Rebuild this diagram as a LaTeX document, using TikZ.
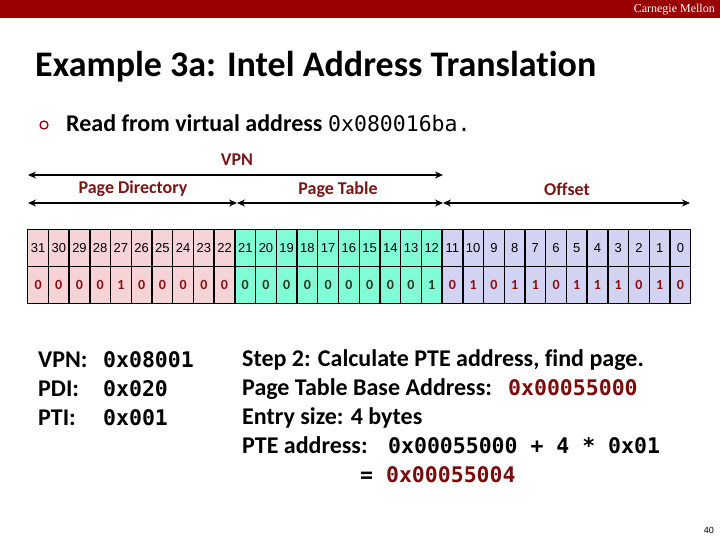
\documentclass[tikz,border=0pt]{standalone}
\usepackage{fontspec}
\setmainfont{Carlito}[Ligatures={NoCommon}]
\newfontfamily\mono{DejaVu Sans Mono}
\newfontfamily\arial{Liberation Sans}
\newfontfamily\tnr{Liberation Serif}
\usetikzlibrary{arrows.meta}
\definecolor{cmured}{HTML}{990000}
\definecolor{lbl}{HTML}{7A1616}
\definecolor{hexred}{HTML}{7A0C0C}
\definecolor{cpink}{HTML}{F6D3D6}
\definecolor{cgreen}{HTML}{80FDD6}
\definecolor{clav}{HTML}{D2D2F2}
\definecolor{vred}{HTML}{8A1010}
\definecolor{vgreen}{HTML}{2A3A20}
\tikzset{
  cell/.style={draw=black, line width=1.4pt, minimum width=20.72pt, minimum height=37pt, inner sep=0pt, anchor=north west},
  bitnum/.style={cell, font=\arial\fontsize{13}{13}\selectfont},
  bitval/.style={cell, font=\bfseries\fontsize{14}{14}\selectfont},
  dim/.style={line width=1.6pt, {Stealth[length=8pt,width=7pt]}-{Stealth[length=8pt,width=7pt]}},
  fieldlbl/.style={text=lbl, font=\bfseries\fontsize{18}{18}\selectfont, inner sep=0pt},
  body/.style={font=\bfseries\fontsize{24}{24}\selectfont, inner sep=0pt, anchor=base west},
  hex/.style={font=\bfseries\mono\fontsize{21.5}{21.5}\selectfont, inner sep=0pt, anchor=base west},
}
\begin{document}
\begin{tikzpicture}[x=1pt,y=-1pt]
\useasboundingbox (0,0) rectangle (720,540);
\fill[cmured] (0,0) rectangle (720,18);
\node[anchor=east, text=white, font=\tnr\fontsize{12}{12}\selectfont, inner sep=0pt] (cmu) at (715,9.5) {Carnegie Mellon};
\node[anchor=base west, inner sep=0pt, font=\bfseries\fontsize{36}{36}\selectfont] (title) at (35,77) {Example 3a: Intel Address Translation};
\node[circle, draw=cmured, line width=1.3pt, minimum size=8pt, inner sep=0pt] (bul) at (44,125) {};
\node[anchor=base west, inner sep=0pt, font=\bfseries\fontsize{24}{24}\selectfont] (read) at (66,132) {Read from virtual address};
\node[anchor=base west, inner sep=0pt, font=\mono\fontsize{21.5}{21.5}\selectfont] (readx) at (328,132) {0x080016ba.};

% field arrows
\coordinate (vl) at (28,175);
\coordinate (vr) at (443,175);
\coordinate (pdl) at (28,203);
\coordinate (mid) at (237,203);
\coordinate (ptr) at (443,203);
\coordinate (ofr) at (690,203);
\draw[dim] (vl) -- (vr);
\draw[dim] (pdl) -- (mid);
\draw[dim] (mid) -- (ptr);
\draw[dim] (ptr) -- (ofr);
\node[fieldlbl] (lvpn) at (237,160) {VPN};
\node[fieldlbl] (lpd) at (133,189) {Page Directory};
\node[fieldlbl] (lpt) at (338,190) {Page Table};
\node[fieldlbl] (lof) at (567,189) {Offset};

% bit table
\foreach \v [count=\k from 0] in {0,0,0,0,1,0,0,0,0,0,0,0,0,0,0,0,0,0,0,1,0,1,0,1,1,0,1,1,1,0,1,0}{
  \pgfmathtruncatemacro{\b}{31-\k}
  \ifnum\k<10 \def\fc{cpink}\def\tc{vred}\else\ifnum\k<20 \def\fc{cgreen}\def\tc{vgreen}\else\def\fc{clav}\def\tc{vred}\fi\fi
  \node[bitnum, fill=\fc] (n\b) at ({27+\k*20.72},229) {\b};
  \node[bitval, fill=\fc, text=\tc] (v\b) at ({27+\k*20.72},266) {\v};
}

% left block
\node[body] (kvpn) at (38,367) {VPN:};
\node[body] (kpdi) at (38,396) {PDI:};
\node[body] (kpti) at (38,425) {PTI:};
\node[hex] (xvpn) at (103,367) {0x08001};
\node[hex] (xpdi) at (103,396) {0x020};
\node[hex] (xpti) at (103,425) {0x001};

% right block
\node[body] (s1) at (242,366) {Step 2: Calculate PTE address, find page.};
\node[body] (s2) at (242,395) {Page Table Base Address:};
\node[hex, text=hexred] (s2x) at (508,395) {0x00055000};
\node[body] (s3) at (242,424) {Entry size: 4 bytes};
\node[body] (s4) at (242,453) {PTE address:};
\node[hex] (s4x) at (388,453) {0x00055000 + 4 * 0x01};
\node[hex] (s5) at (360,482) {= {\color{hexred}0x00055004}};

\node[anchor=east, inner sep=0pt, font=\arial\fontsize{9}{9}\selectfont] (pg) at (714,530) {40};
\end{tikzpicture}
\end{document}
